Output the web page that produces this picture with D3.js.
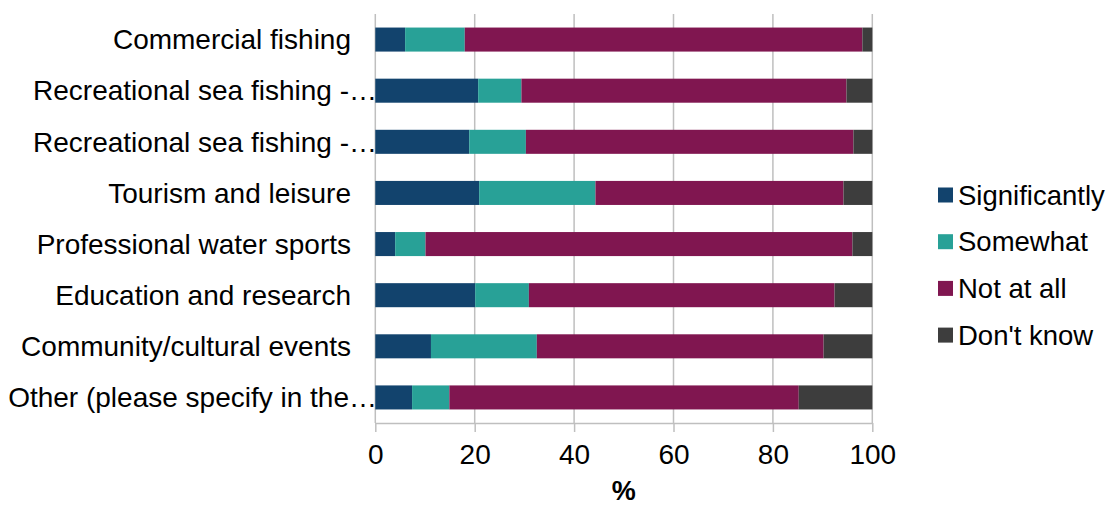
<!DOCTYPE html>
<html>
<head>
<meta charset="utf-8">
<script src="https://cdn.jsdelivr.net/npm/d3@7"></script>
<style>
  html, body { margin: 0; padding: 0; background: #fff; }
  svg { display: block; font-family: "Liberation Sans", Arial, sans-serif; }
</style>
</head>
<body>
<svg id="chart" width="1110" height="506"></svg>
<script>
const categories = [
  "Commercial fishing",
  "Recreational sea fishing -…",
  "Recreational sea fishing -…",
  "Tourism and leisure",
  "Professional water sports",
  "Education and research",
  "Community/cultural events",
  "Other (please specify in the…"
];
const seriesNames = ["Significantly", "Somewhat", "Not at all", "Don't know"];
const significantly = [6.0, 20.7, 18.9, 20.9, 4.0, 20.1, 11.2, 7.4];
const somewhat      = [12.0, 8.7, 11.4, 23.4, 6.1, 10.8, 21.3, 7.5];
const notAtAll      = [80.0, 65.4, 65.9, 49.9, 85.9, 61.5, 57.7, 70.3];
const dontKnow      = [2.0, 5.2, 3.8, 5.8, 4.0, 7.6, 9.8, 14.8];
const xTicks = [0, 20, 40, 60, 80, 100];
const xTitle = "%";
const colors = ["#12436D", "#28A197", "#801650", "#3D3D3D"];

(function () {
const seriesValues = [significantly, somewhat, notAtAll, dontKnow];
const rows = categories.map((c, i) => {
  const r = { key: i, label: c };
  seriesNames.forEach((s, j) => r[s] = seriesValues[j][i]);
  return r;
});
const stacked = d3.stack().keys(seriesNames)(rows);

const svg = d3.select("#chart");
const pLeft = 375.3, pRight = 872.3, pTop = 14, pBottom = 423;
const x = d3.scaleLinear().domain([0, 100]).range([pLeft, pRight]);
const y = d3.scaleBand().domain(rows.map(r => r.key)).range([pTop, pBottom])
  .paddingInner(0.53).paddingOuter(0.265);

const gridColor = "#BFBFBF";
// gridlines
svg.append("g").selectAll("line").data(xTicks).join("line")
  .attr("x1", d => x(d)).attr("x2", d => x(d))
  .attr("y1", pTop).attr("y2", pBottom)
  .attr("stroke", gridColor).attr("stroke-width", 1.5);

// bars
svg.append("g").selectAll("g").data(stacked).join("g")
  .attr("fill", (d, i) => colors[i])
  .selectAll("rect").data(d => d).join("rect")
  .attr("x", d => x(d[0]))
  .attr("width", d => x(d[1]) - x(d[0]))
  .attr("y", d => y(d.data.key))
  .attr("height", y.bandwidth());

// x axis
const xAxis = d3.axisBottom(x).tickValues(xTicks).tickSize(9).tickSizeOuter(0).tickPadding(12);
const gx = svg.append("g").attr("transform", `translate(0,${pBottom})`).call(xAxis);
gx.select(".domain").attr("stroke", gridColor).attr("stroke-width", 1.5);
gx.selectAll(".tick line").attr("stroke", gridColor).attr("stroke-width", 1.5);
gx.selectAll(".tick text").attr("fill", "#000").attr("font-size", "28px")
  .attr("font-family", "'Liberation Sans', Arial, sans-serif");

svg.append("text").attr("x", (pLeft + pRight) / 2).attr("y", 500)
  .attr("text-anchor", "middle").attr("font-size", "27px").attr("font-weight", "bold")
  .text(xTitle);

// category labels
svg.append("g").selectAll("text").data(rows).join("text")
  .attr("x", d => d.label.endsWith("…") ? 377 : 351)
  .attr("y", d => y(d.key) + y.bandwidth() / 2)
  .attr("dy", "0.35em")
  .attr("text-anchor", "end")
  .attr("font-size", "28px")
  .attr("fill", "#000")
  .text(d => d.label);

// legend
const lg = svg.append("g").attr("transform", "translate(938,195)");
const item = lg.selectAll("g").data(seriesNames).join("g")
  .attr("transform", (d, i) => `translate(0,${i * 46.7})`);
item.append("rect").attr("x", 0).attr("y", -7.5).attr("width", 15).attr("height", 15)
  .attr("fill", (d, i) => colors[i]);
item.append("text").attr("x", 20).attr("y", 0).attr("dy", "0.35em")
  .attr("font-size", "27.5px").attr("fill", "#000").text(d => d);
})();
</script>
</body>
</html>
